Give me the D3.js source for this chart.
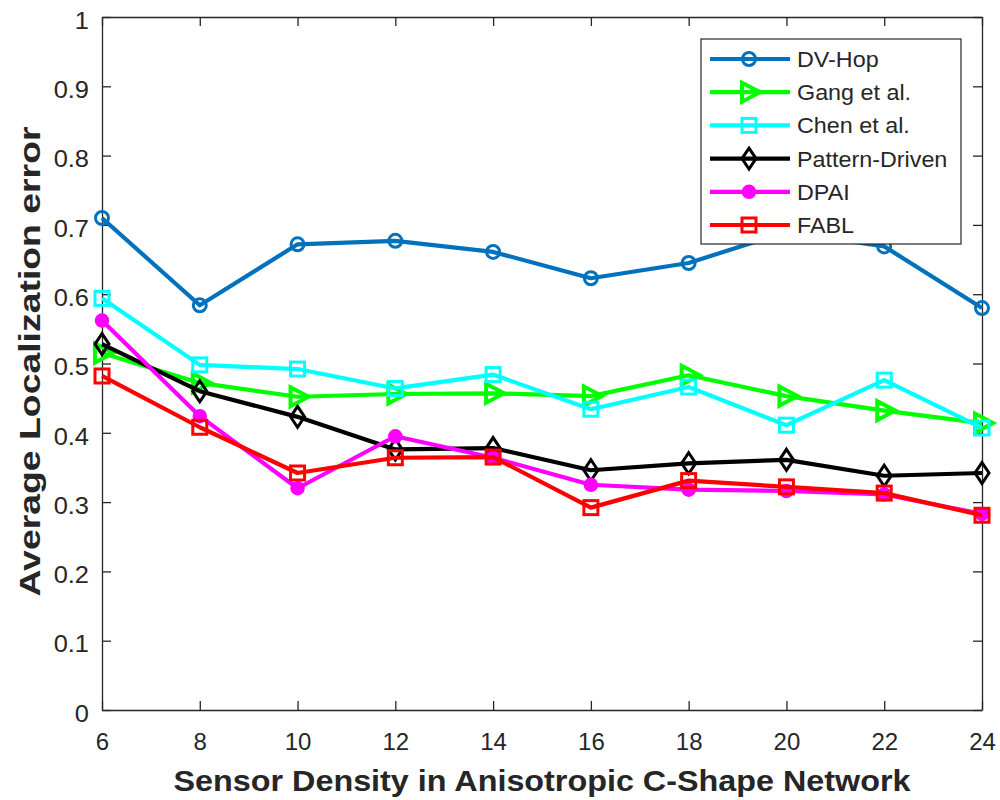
<!DOCTYPE html>
<html>
<head>
<meta charset="utf-8">
<script src="https://cdn.jsdelivr.net/npm/d3@7"></script>
<style>
  body { margin: 0; background: #fff; }
  text { font-family: "Liberation Sans", Arial, sans-serif; fill: #262626; }
</style>
</head>
<body>
<div id="chart"></div>
<script>
// sensor density values on x axis
const density = [6, 8, 10, 12, 14, 16, 18, 20, 22, 24];
const xTicks = [6, 8, 10, 12, 14, 16, 18, 20, 22, 24];
const yTicks = [0, 0.1, 0.2, 0.3, 0.4, 0.5, 0.6, 0.7, 0.8, 0.9, 1];

const dvHop   = [0.710, 0.584, 0.672, 0.677, 0.661, 0.623, 0.645, 0.690, 0.669, 0.580];
const gang    = [0.515, 0.472, 0.452, 0.456, 0.457, 0.453, 0.483, 0.453, 0.432, 0.414];
const chen    = [0.594, 0.498, 0.492, 0.464, 0.484, 0.434, 0.466, 0.411, 0.476, 0.407];
const pattern = [0.528, 0.460, 0.423, 0.376, 0.378, 0.346, 0.356, 0.361, 0.338, 0.342];
const dpai    = [0.562, 0.424, 0.320, 0.395, 0.364, 0.325, 0.318, 0.316, 0.311, 0.283];
const fabl    = [0.482, 0.408, 0.342, 0.364, 0.365, 0.292, 0.331, 0.322, 0.313, 0.281];

const seriesNames = ["DV-Hop", "Gang et al.", "Chen et al.", "Pattern-Driven", "DPAI", "FABL"];
const seriesValues = [dvHop, gang, chen, pattern, dpai, fabl];
const seriesColors = ["#0072BD", "#00FF00", "#00FFFF", "#000000", "#FF00FF", "#FF0000"];
const seriesMarkers = ["circle", "triangle", "square", "diamond", "dot", "square"];

const width = 1000;
const height = 800;
const margin = {top: 17, right: 18, bottom: 90, left: 102};

const svg = d3.select("#chart")
    .append("svg")
    .attr("width", width)
    .attr("height", height);

const x = d3.scaleLinear()
    .domain([6, 24])
    .range([margin.left, width - margin.right]);

const y = d3.scaleLinear()
    .domain([0, 1])
    .range([height - margin.bottom, margin.top]);

// stretch text a bit wider, the source figure is not 1:1
function stretch(sel, k) {
    sel.each(function() {
        const len = this.getComputedTextLength();
        d3.select(this).attr("textLength", len * k).attr("lengthAdjust", "spacingAndGlyphs");
    });
}

// axes, ticks pointing inward like matlab
const xAxis = svg.append("g")
    .attr("transform", `translate(0,${y(0)})`)
    .call(d3.axisBottom(x).tickValues(xTicks).tickSizeInner(-9).tickSizeOuter(0).tickPadding(23));
const yAxis = svg.append("g")
    .attr("transform", `translate(${x(6)},0)`)
    .call(d3.axisLeft(y).tickValues(yTicks).tickFormat(d3.format("")).tickSizeInner(-9).tickSizeOuter(0).tickPadding(13));
svg.append("g")
    .attr("transform", `translate(0,${y(1)})`)
    .call(d3.axisTop(x).tickValues(xTicks).tickSizeInner(-9).tickSizeOuter(0).tickFormat(""));
svg.append("g")
    .attr("transform", `translate(${x(24)},0)`)
    .call(d3.axisRight(y).tickValues(yTicks).tickSizeInner(-9).tickSizeOuter(0).tickFormat(""));

svg.selectAll(".domain").attr("stroke", "#262626").attr("stroke-width", 1.3);
svg.selectAll(".tick line").attr("stroke", "#262626").attr("stroke-width", 1.3);
svg.selectAll(".tick text")
    .attr("font-family", "Liberation Sans, Arial, sans-serif")
    .attr("font-size", 24)
    .attr("fill", "#262626");
yAxis.selectAll(".tick text").attr("dy", "0.47em");
stretch(yAxis.selectAll(".tick text"), 1.06);

// axis titles
svg.append("text")
    .attr("x", (x(6) + x(24)) / 2)
    .attr("y", 791)
    .attr("text-anchor", "middle")
    .attr("font-size", 30)
    .attr("font-weight", "bold")
    .attr("textLength", 737)
    .attr("lengthAdjust", "spacingAndGlyphs")
    .text("Sensor Density in Anisotropic C-Shape Network");

svg.append("text")
    .attr("transform", `translate(40,${(y(0) + y(1)) / 2 - 2}) rotate(-90)`)
    .attr("text-anchor", "middle")
    .attr("font-size", 30)
    .attr("font-weight", "bold")
    .attr("textLength", 470)
    .attr("lengthAdjust", "spacingAndGlyphs")
    .text("Average Localization error");

function drawMarker(g, type, color) {
    if (type === "circle") {
        g.append("circle").attr("r", 6.5).attr("fill", "none").attr("stroke", color).attr("stroke-width", 3);
    } else if (type === "dot") {
        g.append("circle").attr("r", 6.5).attr("fill", color).attr("stroke", color).attr("stroke-width", 1.5);
    } else if (type === "square") {
        g.append("rect").attr("x", -7).attr("y", -7).attr("width", 14).attr("height", 14)
            .attr("fill", "none").attr("stroke", color).attr("stroke-width", 3);
    } else if (type === "triangle") {
        g.append("path").attr("d", "M-7,-9.5L-7,9.5L11,0Z")
            .attr("fill", "none").attr("stroke", color).attr("stroke-width", 4).attr("stroke-linejoin", "miter");
    } else if (type === "diamond") {
        g.append("path").attr("d", "M0,-10.5L7,0L0,10.5L-7,0Z")
            .attr("fill", "none").attr("stroke", color).attr("stroke-width", 3);
    }
}

const line = d3.line()
    .x(d => x(d[0]))
    .y(d => y(d[1]));

seriesValues.forEach((vals, i) => {
    const pts = density.map((d, j) => [d, vals[j]]);
    const g = svg.append("g").attr("class", "series");
    g.append("path")
        .datum(pts)
        .attr("fill", "none")
        .attr("stroke", seriesColors[i])
        .attr("stroke-width", 4.2)
        .attr("stroke-linejoin", "round")
        .attr("d", line);
    pts.forEach(p => {
        const m = g.append("g").attr("transform", `translate(${x(p[0])},${y(p[1])})`);
        drawMarker(m, seriesMarkers[i], seriesColors[i]);
    });
});

// legend box top right
const legend = svg.append("g").attr("transform", "translate(701,39)");
legend.append("rect")
    .attr("width", 260)
    .attr("height", 205)
    .attr("fill", "#fff")
    .attr("stroke", "#262626")
    .attr("stroke-width", 1.2);

seriesNames.forEach((name, i) => {
    const row = legend.append("g").attr("transform", `translate(0,${20 + i * 33.2})`);
    row.append("line")
        .attr("x1", 9).attr("x2", 89)
        .attr("stroke", seriesColors[i])
        .attr("stroke-width", 4.2);
    drawMarker(row.append("g").attr("transform", "translate(48,0)"), seriesMarkers[i], seriesColors[i]);
    row.append("text")
        .attr("x", 96)
        .attr("y", 8)
        .attr("font-size", 22)
        .text(name);
});
stretch(legend.selectAll("text"), 1.06);
</script>
</body>
</html>
